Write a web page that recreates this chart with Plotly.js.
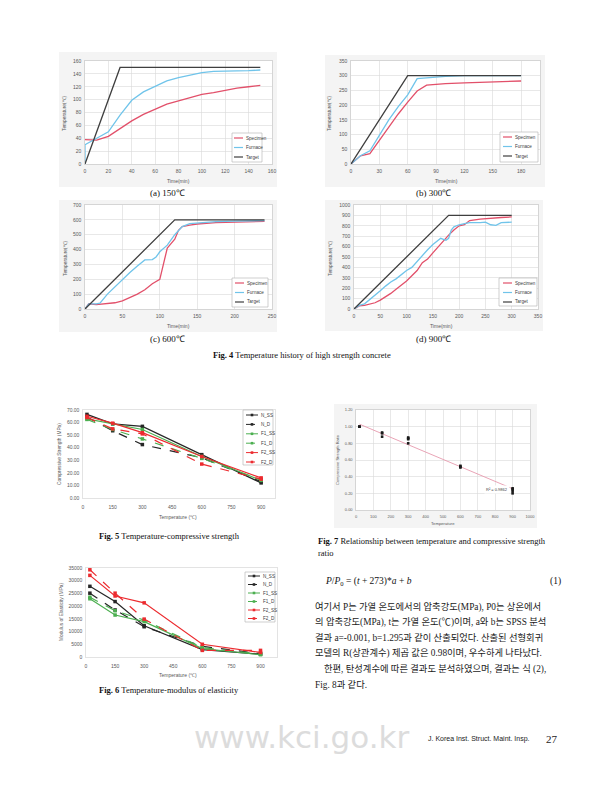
<!DOCTYPE html>
<html>
<head>
<meta charset="utf-8">
<script src="https://cdn.plot.ly/plotly-3.0.1.min.js"></script>
<style>html,body{margin:0;padding:0;background:#fff;}#page{width:604px;height:800px;}</style>
</head>
<body>
<div id="page"></div>
<script>
// ---------------- DATA ----------------
// Fig. 4 (a) 150℃
const a_target_t = [0, 30, 150];
const a_target_T = [0, 150, 150];
const a_furnace_t = [0, 0, 10, 20, 30, 40, 50, 60, 70, 80, 90, 100, 110, 120, 130, 140, 150];
const a_furnace_T = [0, 30, 40, 50, 76, 99, 112, 120, 129, 134, 138, 142, 144, 144, 145, 145, 146];
const a_spec_t = [0, 10, 20, 30, 40, 50, 60, 70, 80, 90, 100, 110, 120, 130, 140, 150];
const a_spec_T = [38, 37, 43, 55, 67, 77, 85, 93, 98, 103, 108, 111, 115, 118, 120, 122];
// Fig. 4 (b) 300℃
const b_target_t = [0, 60, 180];
const b_target_T = [0, 300, 300];
const b_furnace_t = [0, 10, 20, 30, 40, 50, 60, 70, 80, 90, 100, 120, 150, 180];
const b_furnace_T = [0, 28, 45, 100, 150, 195, 235, 290, 293, 296, 298, 300, 300, 300];
const b_spec_t = [0, 10, 20, 30, 40, 50, 60, 70, 80, 90, 100, 120, 150, 180];
const b_spec_T = [0, 28, 35, 80, 125, 170, 210, 248, 268, 271, 273, 276, 279, 282];
// Fig. 4 (c) 600℃
const c_target_t = [0, 120, 240];
const c_target_T = [0, 600, 600];
const c_furnace_t = [0, 5, 15, 20, 30, 40, 50, 60, 70, 80, 90, 95, 100, 110, 120, 130, 140, 150, 175, 200, 240];
const c_furnace_T = [0, 35, 35, 40, 100, 150, 200, 245, 290, 330, 333, 350, 385, 430, 500, 555, 575, 580, 588, 592, 595];
const c_spec_t = [0, 5, 15, 30, 40, 50, 60, 70, 80, 90, 100, 105, 110, 115, 120, 125, 130, 140, 150, 175, 200, 240];
const c_spec_T = [0, 35, 30, 35, 42, 55, 75, 100, 130, 170, 200, 300, 410, 440, 470, 530, 555, 565, 572, 582, 585, 590];
// Fig. 4 (d) 900℃
const d_target_t = [0, 180, 300];
const d_target_T = [0, 900, 900];
const d_furnace_t = [0, 10, 20, 30, 40, 50, 60, 70, 80, 90, 100, 110, 120, 130, 140, 150, 160, 165, 170, 175, 180, 185, 190, 200, 210, 220, 240, 250, 260, 270, 280, 300];
const d_furnace_T = [0, 35, 50, 90, 130, 175, 220, 260, 290, 330, 370, 400, 460, 510, 570, 620, 665, 680, 670, 660, 680, 760, 790, 810, 820, 830, 830, 835, 810, 805, 830, 835];
const d_spec_t = [0, 10, 20, 30, 40, 50, 60, 70, 80, 90, 100, 110, 120, 130, 140, 150, 160, 170, 180, 190, 200, 210, 220, 240, 260, 280, 300];
const d_spec_T = [0, 30, 35, 45, 60, 85, 115, 150, 190, 230, 270, 320, 370, 445, 480, 540, 600, 650, 710, 760, 800, 810, 850, 865, 875, 880, 885];
const fig4_names = ['Specimen', 'Furnace', 'Target'];

// Fig. 5 Temperature - compressive strength (MPa)
const fig5_temp = [20, 150, 300, 600, 900];
const fig5_N_SS = [66.5, 59.0, 57.0, 34.5, 12.0];
const fig5_N_D = [64.5, 53.5, 42.5, 32.0, 13.0];
const fig5_F1_SS = [63.0, 59.0, 54.5, 33.0, 14.0];
const fig5_F1_D = [62.5, 54.5, 47.0, 31.5, 14.5];
const fig5_F2_SS = [65.0, 59.5, 52.0, 33.0, 16.0];
const fig5_F2_D = [64.0, 55.0, 51.0, 27.0, 15.0];

// Fig. 6 Temperature - modulus of elasticity (MPa)
const fig6_temp = [20, 150, 300, 600, 900];
const fig6_N_SS = [27800, 21800, 12300, 2900, 1100];
const fig6_N_D = [25100, 18500, 11900, 4200, 1300];
const fig6_F1_SS = [22900, 16500, 13900, 3300, 900];
const fig6_F1_D = [23500, 18200, 14500, 3700, 1200];
const fig6_F2_SS = [32100, 24000, 21300, 5000, 1800];
const fig6_F2_D = [34300, 25100, 14900, 2600, 2600];
const mix_names = ['N_SS', 'N_D', 'F1_SS', 'F1_D', 'F2_SS', 'F2_D'];

// Fig. 7 Temperature vs compressive strength ratio
const fig7_temp = [20, 20, 20, 150, 150, 150, 300, 300, 300, 300, 600, 600, 600, 900, 900, 900, 900];
const fig7_ratio = [1.00, 1.00, 1.00, 0.93, 0.92, 0.88, 0.87, 0.86, 0.85, 0.80, 0.53, 0.52, 0.51, 0.26, 0.25, 0.23, 0.20];
const fig7_trend_t = [20, 900];
const fig7_trend_r = [1.03, 0.255];
const fig7_r2 = 'R² = 0.9862';

// ---------------- HELPERS ----------------
const W = 604, H = 800;
const fx = p => p / W;
const fy = p => 1 - p / H;
const SANS = 'Liberation Sans, Arial, sans-serif';
const SERIF = 'Liberation Serif, Times New Roman, serif';
const KR = 'Liberation Serif, Noto Sans CJK KR, serif';
const C_SPEC = '#e2506a', C_FURN = '#70c4ea', C_TARG = '#3f3f3f';
const C_N = '#262626', C_F1 = '#4caf50', C_F2 = '#ec2b2f';

const layout = {
  width: W, height: H, margin: {l: 0, r: 0, t: 0, b: 0},
  paper_bgcolor: '#ffffff', plot_bgcolor: 'rgba(0,0,0,0)', showlegend: false,
  shapes: [], annotations: []
};
const data = [];

function baseAx() {
  return {showgrid: true, gridcolor: '#d9d9d9', gridwidth: 0.6, zeroline: false,
    showline: true, linecolor: '#bfbfbf', linewidth: 0.6, mirror: true, ticks: '',
    tick0: 0, tickfont: {size: 5, color: '#595959', family: SANS}, fixedrange: true,
    ticklabelstandoff: 2};
}
function setAx(i, xdom, ydom, xr, xd, yr, yd, xo, yo) {
  const s = i === 1 ? '' : String(i);
  layout['xaxis' + s] = Object.assign(baseAx(), {domain: [fx(xdom[0]), fx(xdom[1])], range: xr, dtick: xd, anchor: 'y' + s}, xo || {});
  layout['yaxis' + s] = Object.assign(baseAx(), {domain: [fy(ydom[1]), fy(ydom[0])], range: yr, dtick: yd, anchor: 'x' + s}, yo || {});
}
function tr(i, x, y, color, width, dash, msize) {
  const s = i === 1 ? '' : String(i);
  const t = {type: 'scatter', mode: msize ? 'lines+markers' : 'lines', x: x, y: y,
    xaxis: 'x' + s, yaxis: 'y' + s, line: {color: color, width: width, dash: dash || 'solid'}, hoverinfo: 'skip'};
  if (msize) t.marker = {symbol: 'square', size: msize, color: color};
  data.push(t);
}
function rect(x0, y0, x1, y1, fill, lineColor, layer) {
  layout.shapes.push({type: 'rect', xref: 'paper', yref: 'paper', x0: fx(x0), x1: fx(x1), y0: fy(y1), y1: fy(y0),
    fillcolor: fill, line: {color: lineColor || 'rgba(0,0,0,0)', width: lineColor ? 0.6 : 0}, layer: layer || 'below'});
}
function txt(x, y, text, size, o) {
  o = o || {};
  layout.annotations.push({xref: 'paper', yref: 'paper', x: fx(x), y: fy(y), text: text, showarrow: false,
    xanchor: o.xa || 'center', yanchor: 'middle', textangle: o.angle || 0,
    font: {size: size, color: o.color || '#595959', family: o.family || SANS, weight: o.weight || 'normal'}});
}
function legend(box, items, yStart, step, lx0, lx1, tx, fsize) {
  rect(box[0], box[1], box[2], box[3], '#ffffff', '#b0b0b0', 'above');
  items.forEach((it, k) => {
    const y = yStart + k * step;
    layout.shapes.push({type: 'line', xref: 'paper', yref: 'paper', x0: fx(lx0), x1: fx(lx1), y0: fy(y), y1: fy(y),
      line: {color: it.color, width: it.width || 1.2, dash: it.dash || 'solid'}, layer: 'above'});
    if (it.marker) {
      const cx = (lx0 + lx1) / 2;
      layout.shapes.push({type: 'rect', xref: 'paper', yref: 'paper', x0: fx(cx - 1.3), x1: fx(cx + 1.3), y0: fy(y + 1.3), y1: fy(y - 1.3),
        fillcolor: it.color, line: {width: 0}, layer: 'above'});
    }
    txt(tx, y, it.name, fsize, {xa: 'left', color: '#404040'});
  });
}

// ---------------- FIG. 4 ----------------
const fig4 = [
  {i: 1, box: [59, 52, 277, 187], xd: [85, 272], yd: [61, 164], xr: [0, 160], xt: 20, yr: [0, 160], yt: 20,
   series: [[a_spec_t, a_spec_T], [a_furnace_t, a_furnace_T], [a_target_t, a_target_T]],
   leg: [232, 133, 262, 162], ly: 138, lx: [234, 243, 244], ytl: [65, 113], xtl: [178, 181], cap: [167, 193, '(a) 150℃']},
  {i: 2, box: [325, 55, 545, 187], xd: [351, 540], yd: [61, 164], xr: [0, 200], xt: 30, yr: [0, 350], yt: 50,
   series: [[b_spec_t, b_spec_T], [b_furnace_t, b_furnace_T], [b_target_t, b_target_T]],
   leg: [500, 132, 538, 162], ly: 137, lx: [503, 512, 513], ytl: [330, 113], xtl: [446, 181], cap: [433, 193, '(b) 300℃']},
  {i: 3, box: [59, 200, 277, 332], xd: [85, 272], yd: [205, 309], xr: [0, 250], xt: 50, yr: [0, 700], yt: 100,
   series: [[c_spec_t, c_spec_T], [c_furnace_t, c_furnace_T], [c_target_t, c_target_T]],
   leg: [232, 278, 268, 307], ly: 283, lx: [235, 244, 245], ytl: [65, 258], xtl: [178, 326], cap: [167, 339, '(c) 600℃']},
  {i: 4, box: [325, 200, 543, 331], xd: [354, 538], yd: [205, 309], xr: [0, 350], xt: 50, yr: [0, 1000], yt: 100,
   series: [[d_spec_t, d_spec_T], [d_furnace_t, d_furnace_T], [d_target_t, d_target_T]],
   leg: [499, 278, 537, 306], ly: 283, lx: [503, 512, 513], ytl: [330, 258], xtl: [441, 326], cap: [433, 339, '(d) 900℃']}
];
const fig4_colors = [C_SPEC, C_FURN, C_TARG];
fig4.forEach(c => {
  rect(c.box[0], c.box[1], c.box[2], c.box[3], '#f4f4f4');
  rect(c.xd[0], c.yd[0], c.xd[1], c.yd[1], '#ffffff');
  setAx(c.i, c.xd, c.yd, c.xr, c.xt, c.yr, c.yt);
  c.series.forEach((s, k) => tr(c.i, s[0], s[1], fig4_colors[k], 1.3));
  legend(c.leg, fig4_names.map((n, k) => ({name: n, color: fig4_colors[k]})), c.ly, 9.5, c.lx[0], c.lx[1], c.lx[2], 4.6);
  txt(c.ytl[0], c.ytl[1], 'Temperature(℃)', 4.8, {angle: -90});
  txt(c.xtl[0], c.xtl[1], 'Time(min)', 5);
  txt(c.cap[0], c.cap[1], c.cap[2], 9, {family: SERIF, color: '#111'});
});
txt(302, 355, '<b>Fig. 4</b> Temperature history of high strength concrete', 8.5, {family: SERIF, color: '#111'});

// ---------------- FIG. 5 / FIG. 6 ----------------
const mix_styles = [
  {color: C_N, dash: 'solid'}, {color: C_N, dash: 'dash'},
  {color: C_F1, dash: 'solid'}, {color: C_F1, dash: 'dash'},
  {color: C_F2, dash: 'solid'}, {color: C_F2, dash: 'dash'}
];
const lightAx = {showgrid: false, linecolor: '#d0d0d0'};
setAx(5, [83, 275], [410, 498], [0, 970], 150, [0, 70], 10,
  Object.assign({}, lightAx, {ticklabelstandoff: 4}), Object.assign({}, lightAx, {tickformat: '.2f'}));
[fig5_N_SS, fig5_N_D, fig5_F1_SS, fig5_F1_D, fig5_F2_SS, fig5_F2_D].forEach((v, k) =>
  tr(5, fig5_temp, v, mix_styles[k].color, 1.2, mix_styles[k].dash, 3.5));
legend([243, 410, 273, 465], mix_names.map((n, k) => ({name: n, color: mix_styles[k].color, dash: mix_styles[k].dash, marker: true, width: 1})),
  415, 9.4, 246, 258, 259, 4.6);
txt(59, 454, 'Compressive Strength (MPa)', 4.8, {angle: -90});
txt(178, 517, 'Temperature (℃)', 5);
txt(169, 536, '<b>Fig. 5</b> Temperature-compressive strength', 8.5, {family: SERIF, color: '#111'});

setAx(6, [86, 277], [568, 657], [0, 985], 150, [0, 35000], 5000,
  Object.assign({}, lightAx, {ticklabelstandoff: 4}), Object.assign({}, lightAx, {tickformat: 'd', separatethousands: false}));
[fig6_N_SS, fig6_N_D, fig6_F1_SS, fig6_F1_D, fig6_F2_SS, fig6_F2_D].forEach((v, k) =>
  tr(6, fig6_temp, v, mix_styles[k].color, 1.2, mix_styles[k].dash, 3.5));
legend([245, 572, 275, 622], mix_names.map((n, k) => ({name: n, color: mix_styles[k].color, dash: mix_styles[k].dash, marker: true, width: 1})),
  576, 8.5, 248, 260, 261, 4.6);
txt(61, 612, 'Modulus of Elasticity (MPa)', 4.8, {angle: -90});
txt(178, 675, 'Temperature (℃)', 5);
txt(97, 690, '<b>Fig. 6</b> Temperature-modulus of elasticity', 8.5, {family: SERIF, color: '#111', xa: 'left'});

// ---------------- FIG. 7 ----------------
rect(334, 404, 537, 528, '#f4f4f4');
rect(356, 410, 530, 510, '#ffffff');
setAx(7, [356, 530], [410, 510], [0, 1000], 100, [0, 1.2], 0.2,
  {tickfont: {size: 4, color: '#595959', family: SANS}, ticklabelstandoff: 3},
  {tickformat: '.2f', tickfont: {size: 4, color: '#595959', family: SANS}});
data.push({type: 'scatter', mode: 'lines', x: fig7_trend_t, y: fig7_trend_r, xaxis: 'x7', yaxis: 'y7',
  line: {color: '#e79aae', width: 0.9}, hoverinfo: 'skip'});
data.push({type: 'scatter', mode: 'markers', x: fig7_temp, y: fig7_ratio, xaxis: 'x7', yaxis: 'y7',
  marker: {symbol: 'square', size: 2.6, color: '#1a1a1a'}, hoverinfo: 'skip'});
layout.annotations.push({xref: 'x7', yref: 'y7', x: 810, y: 0.25, text: fig7_r2, showarrow: false,
  font: {size: 4, color: '#404040', family: SANS}, bgcolor: '#ffffff'});
txt(338, 460, 'Compressive Strength Ratio', 4, {angle: -90});
txt(443, 523, 'Temperature', 4.2);
txt(316, 541, '<b>Fig. 7</b> Relationship between temperature and compressive strength', 8.5, {family: SERIF, color: '#111', xa: 'left'});
txt(316, 553, 'ratio', 8.5, {family: SERIF, color: '#111', xa: 'left'});

// ---------------- BODY TEXT ----------------
txt(323, 581, '<i>P</i>/<i>P</i><sub>0</sub> = (<i>t</i> + 273)*<i>a</i> + <i>b</i>', 9.5, {family: SERIF, color: '#111', xa: 'left'});
txt(555, 581, '(1)', 9.5, {family: SERIF, color: '#111'});
const body_lines = [
  '여기서 P는 가열 온도에서의 압축강도(MPa), P0는 상온에서',
  '의 압축강도(MPa), t는 가열 온도(℃)이며, a와 b는 SPSS 분석',
  '결과 a=-0.001, b=1.295과 같이 산출되었다. 산출된 선형회귀',
  '모델의 R(상관계수) 제곱 값은 0.98이며, 우수하게 나타났다.',
  '한편, 탄성계수에 따른 결과도 분석하였으며, 결과는 식 (2),',
  'Fig. 8과 같다.'
];
const body_indent = [0, 0, 0, 0, 9, 0];
body_lines.forEach((l, k) => txt(313 + body_indent[k], 607 + k * 15.4, l, 9.3, {family: KR, color: '#1a1a1a', xa: 'left'}));

// ---------------- FOOTER ----------------
txt(301, 737, 'www.kci.go.kr', 31, {family: 'DejaVu Sans, sans-serif', color: '#dcdcdc'});
txt(532, 739, 'J. Korea Inst. Struct. Maint. Insp.', 7, {family: SANS, color: '#222', xa: 'right'});
txt(552, 739, '27', 11, {family: SERIF, color: '#222'});

Plotly.newPlot('page', data, layout, {staticPlot: true, displayModeBar: false});
</script>
</body>
</html>
